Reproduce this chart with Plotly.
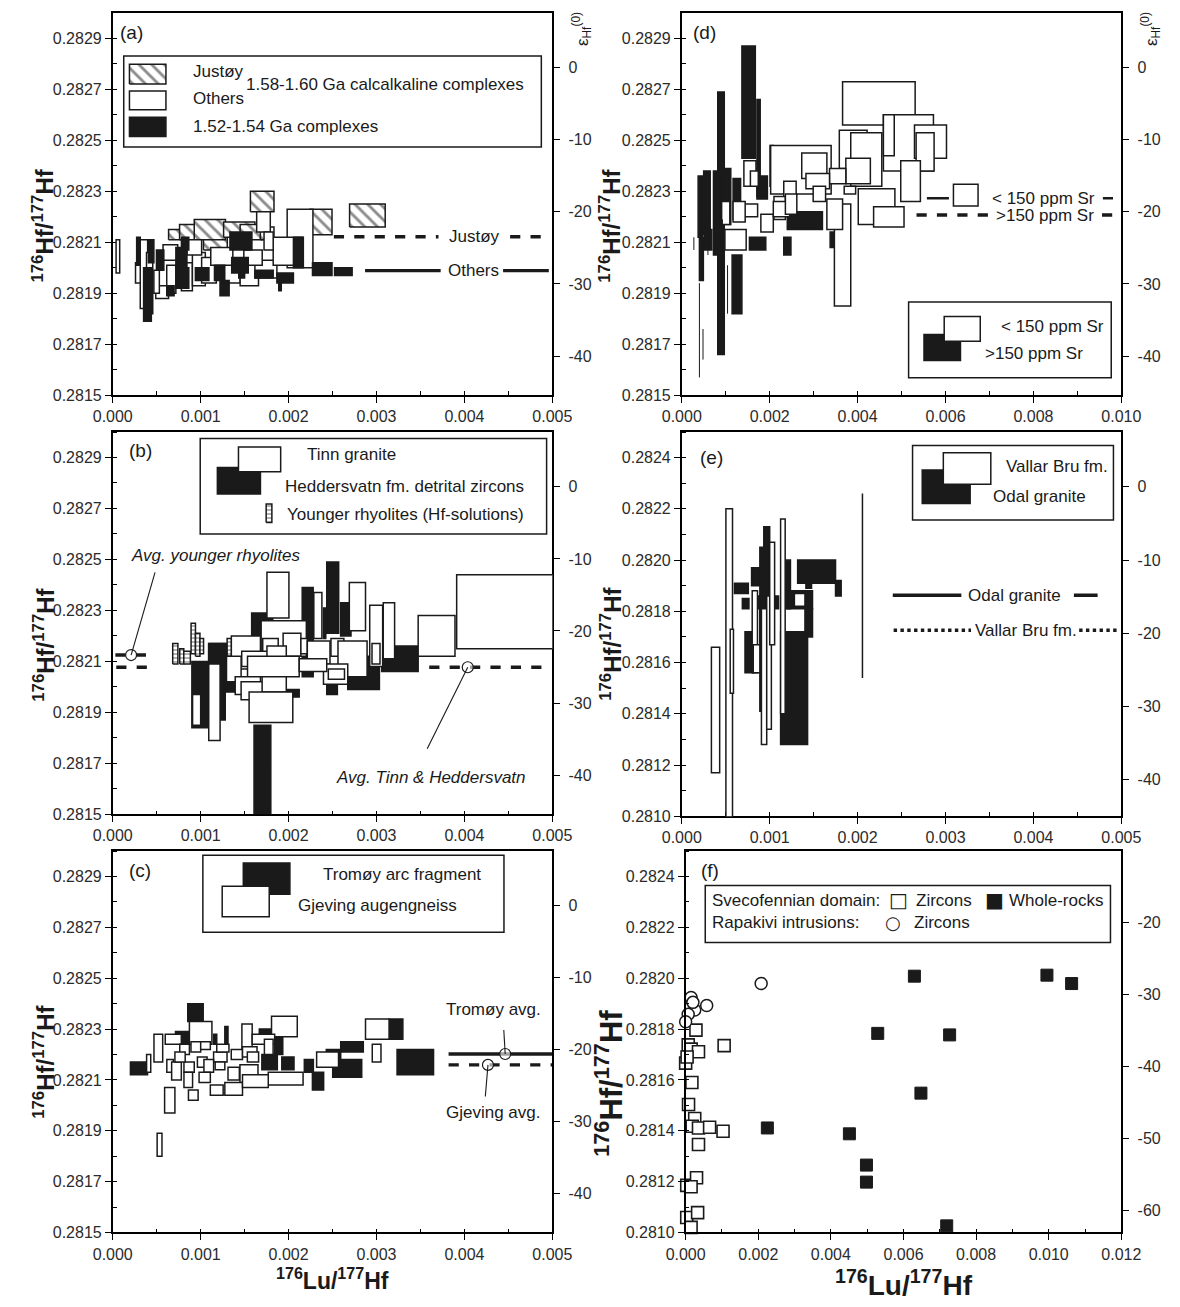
import plotly.graph_objects as go

W, H = 1180, 1307
FONT = "Liberation Sans, Arial, Helvetica, sans-serif"
INK = "#1a1a1a"
LU = 1e-3          # all 176Lu/177Hf values below are given in units of 1e-3
CHUR_HF = 0.282785  # present-day CHUR used for the eHf(0) scales
E_REF_HF = 0.282286  # panel (e): 176Hf/177Hf at e = 0
E_SLOPE = 0.00002858  # panel (e): 176Hf/177Hf per e-unit

# ---------------- (a) 1.52-1.60 Ga complexes : (Lu lo, Lu hi, Hf lo, Hf hi) ----------------
A_JUSTOY = [
    (1.566, 1.834, 0.28222, 0.28230), (2.243, 2.494, 0.28213, 0.28223), (2.694, 3.099, 0.28216, 0.28225),
    (1.032, 1.303, 0.28207, 0.28213), (0.635, 0.781, 0.28211, 0.28215), (0.760, 0.948, 0.28211, 0.28217),
    (0.927, 1.282, 0.28211, 0.28219), (1.261, 1.617, 0.28212, 0.28218), (1.449, 1.700, 0.28211, 0.28217),
    (1.679, 1.834, 0.28211, 0.28216),
]
A_OTHERS = [
    (0.038, 0.079, 0.28198, 0.28211), (0.259, 0.330, 0.28194, 0.28202), (0.313, 0.397, 0.28184, 0.28211),
    (0.384, 0.455, 0.28182, 0.28206), (0.489, 0.635, 0.28188, 0.28193), (0.468, 0.530, 0.28190, 0.28199),
    (0.614, 0.718, 0.28190, 0.28201), (0.781, 0.906, 0.28191, 0.28202), (0.906, 1.053, 0.28193, 0.28206),
    (1.011, 1.178, 0.28194, 0.28204), (1.261, 1.449, 0.28194, 0.28202), (1.449, 1.658, 0.28193, 0.28201),
    (1.617, 1.867, 0.28196, 0.28203), (1.984, 2.277, 0.28200, 0.28223), (1.825, 2.160, 0.28201, 0.28212),
    (1.637, 1.792, 0.28214, 0.28222), (1.115, 1.366, 0.28201, 0.28208), (0.844, 1.011, 0.28205, 0.28211),
    (0.572, 0.739, 0.28203, 0.28209), (1.491, 1.700, 0.28201, 0.28207), (1.721, 1.825, 0.28207, 0.28214),
]
A_YOUNG = [
    (0.272, 0.313, 0.28201, 0.28212), (0.351, 0.439, 0.28179, 0.28200), (0.405, 0.468, 0.28202, 0.28211),
    (0.497, 0.581, 0.28199, 0.28207), (0.718, 0.844, 0.28200, 0.28208), (0.718, 0.865, 0.28192, 0.28200),
    (0.940, 1.094, 0.28195, 0.28200), (1.157, 1.274, 0.28195, 0.28201), (1.220, 1.324, 0.28189, 0.28195),
    (1.333, 1.583, 0.28207, 0.28214), (1.353, 1.541, 0.28198, 0.28204), (1.433, 1.500, 0.28196, 0.28198),
    (1.617, 1.825, 0.28196, 0.28199), (1.867, 2.055, 0.28194, 0.28198), (2.055, 2.168, 0.28200, 0.28212),
    (2.272, 2.494, 0.28197, 0.28202), (2.523, 2.723, 0.28197, 0.28200), (1.888, 1.917, 0.28191, 0.28194),
    (0.614, 0.698, 0.28189, 0.28193), (0.781, 0.865, 0.28207, 0.28212),
]
A_AVG = {"Justøy": 0.282122, "Others": 0.281989}
A_AVG_SEGS = {"Justøy": [(2.515, 3.705), (4.52, 4.96)], "Others": [(2.87, 3.73), (4.44, 4.96)]}
A_AVG_LABEL_LU = {"Justøy": 4.11, "Others": 4.10}

# ---------------- (d) 1.52-1.54 Ga granitoids by Sr content ----------------
D_HIGH_SR = [
    (1.368, 1.673, 0.28243, 0.28287), (0.818, 0.967, 0.28166, 0.28269), (1.710, 1.784, 0.28228, 0.28266),
    (1.145, 1.368, 0.28182, 0.28205), (0.372, 0.476, 0.28212, 0.28236), (0.498, 0.647, 0.28213, 0.28238),
    (0.721, 0.907, 0.28205, 0.28238), (0.944, 1.115, 0.28217, 0.28239), (1.167, 1.338, 0.28219, 0.28235),
    (1.710, 1.948, 0.28227, 0.28236), (1.539, 1.911, 0.28207, 0.28212), (2.320, 2.483, 0.28205, 0.28212),
    (1.093, 1.316, 0.28208, 0.28211), (2.400, 3.200, 0.28215, 0.28222), (0.520, 0.684, 0.28207, 0.28215),
    (0.401, 0.491, 0.28195, 0.28212), (3.375, 3.472, 0.28208, 0.28214), (2.007, 2.082, 0.28232, 0.28248),
]
D_LOW_SR = [
    (3.658, 5.309, 0.28256, 0.28273), (2.022, 3.398, 0.28229, 0.28248), (3.584, 4.216, 0.28239, 0.28254),
    (3.844, 4.550, 0.28232, 0.28253), (4.587, 5.725, 0.28238, 0.28260), (5.294, 6.022, 0.28243, 0.28256),
    (5.331, 5.740, 0.28238, 0.28253), (4.587, 4.833, 0.28244, 0.28260), (4.981, 5.428, 0.28226, 0.28242),
    (4.015, 4.848, 0.28217, 0.28231), (4.364, 5.056, 0.28216, 0.28224), (3.472, 3.844, 0.28185, 0.28225),
    (3.301, 3.658, 0.28215, 0.28227), (2.729, 3.301, 0.28235, 0.28245), (3.732, 4.290, 0.28233, 0.28243),
    (3.361, 3.732, 0.28233, 0.28239), (2.825, 3.361, 0.28231, 0.28237), (2.989, 3.271, 0.28226, 0.28232),
    (2.320, 2.602, 0.28227, 0.28234), (2.097, 2.357, 0.28219, 0.28228), (1.799, 2.082, 0.28214, 0.28221),
    (0.981, 1.465, 0.28207, 0.28215), (1.413, 1.688, 0.28232, 0.28242), (1.561, 1.740, 0.28232, 0.28238),
    (1.413, 1.725, 0.28220, 0.28225), (1.167, 1.442, 0.28218, 0.28226), (0.907, 1.093, 0.28217, 0.28226),
    (2.082, 2.454, 0.28220, 0.28226), (2.357, 2.617, 0.28221, 0.28229), (3.695, 3.955, 0.28229, 0.28232),
]
D_THIN = [  # (Lu, Hf lo, Hf hi) analyses with negligible Lu error
    (0.401, 0.28157, 0.28194), (0.483, 0.28164, 0.28176), (1.041, 0.28182, 0.28201),
    (0.275, 0.28207, 0.28212), (0.595, 0.28205, 0.28220), (0.925, 0.28191, 0.28219),
]
D_AVG = {"< 150 ppm Sr": 0.282273, ">150 ppm Sr": 0.282207}
D_AVG_SEGS = {"< 150 ppm Sr": [(5.576, 6.077), (9.58, 9.81)], ">150 ppm Sr": [(5.34, 6.97), (9.56, 9.97)]}
D_AVG_LABEL_LU = {"< 150 ppm Sr": 8.22, ">150 ppm Sr": 8.26}

# ---------------- (b) Tinn / Heddersvatn / younger rhyolites ----------------
B_HEDD = [
    (1.607, 1.798, 0.28146, 0.28185), (2.434, 2.570, 0.28221, 0.28249), (2.155, 2.280, 0.28204, 0.28239),
    (2.592, 2.710, 0.28220, 0.28233), (1.580, 1.820, 0.28217, 0.28229), (3.059, 3.474, 0.28206, 0.28216),
    (2.673, 3.033, 0.28199, 0.28212), (2.434, 2.555, 0.28197, 0.28206), (1.099, 1.294, 0.28209, 0.28217),
    (0.900, 1.110, 0.28184, 0.28210), (1.090, 1.280, 0.28187, 0.28217), (1.294, 1.386, 0.28198, 0.28206),
    (1.956, 2.121, 0.28196, 0.28199), (2.397, 2.423, 0.28219, 0.28231),
]
B_TINN = [
    (1.754, 2.004, 0.28227, 0.28245), (2.691, 2.875, 0.28222, 0.28241), (2.287, 2.379, 0.28219, 0.28237),
    (2.923, 3.070, 0.28208, 0.28232), (3.077, 3.206, 0.28211, 0.28233), (3.474, 3.893, 0.28212, 0.28228),
    (3.912, 5.197, 0.28215, 0.28244), (1.688, 2.202, 0.28212, 0.28226), (1.349, 1.680, 0.28207, 0.28220),
    (1.706, 1.882, 0.28212, 0.28219), (1.938, 2.140, 0.28212, 0.28221), (2.140, 2.213, 0.28213, 0.28219),
    (2.213, 2.471, 0.28209, 0.28218), (2.482, 2.629, 0.28212, 0.28219), (2.562, 2.893, 0.28204, 0.28218),
    (2.397, 2.673, 0.28201, 0.28209), (1.467, 1.772, 0.28208, 0.28214), (1.754, 1.974, 0.28208, 0.28216),
    (1.533, 2.121, 0.28204, 0.28212), (2.121, 2.434, 0.28206, 0.28211), (1.294, 1.460, 0.28202, 0.28212),
    (1.393, 1.680, 0.28197, 0.28204), (1.460, 1.772, 0.28195, 0.28202), (1.882, 1.956, 0.28194, 0.28200),
    (1.699, 1.974, 0.28198, 0.28204), (1.551, 2.048, 0.28186, 0.28198), (1.092, 1.221, 0.28179, 0.28209),
    (0.908, 1.000, 0.28185, 0.28197), (2.949, 3.040, 0.28209, 0.28217), (2.452, 2.636, 0.28203, 0.28207),
]
B_RHYO = [
    (0.682, 0.741, 0.28209, 0.28217), (0.762, 0.808, 0.28209, 0.28215), (0.808, 0.883, 0.28209, 0.28214),
    (0.891, 0.941, 0.28213, 0.28225), (0.941, 0.992, 0.28212, 0.28221), (0.992, 1.033, 0.28213, 0.28219),
    (1.301, 1.351, 0.28212, 0.28219),
]
B_AVG_RHYO = 0.282125
B_AVG_TH = 0.282077
B_AVG_RHYO_LU = 0.209
B_AVG_TH_LU = 4.038

# ---------------- (c) Tromøy / Gjeving ----------------
C_TROMOY = [
    (0.201, 0.396, 0.28212, 0.28217), (0.853, 1.029, 0.28233, 0.28240), (0.714, 0.872, 0.28224, 0.28229),
    (1.667, 1.806, 0.28227, 0.28230), (1.842, 1.934, 0.28220, 0.28227), (1.696, 1.872, 0.28214, 0.28220),
    (1.923, 2.062, 0.28214, 0.28219), (2.179, 2.282, 0.28213, 0.28218), (2.271, 2.399, 0.28206, 0.28213),
    (2.502, 2.832, 0.28211, 0.28218), (2.593, 2.850, 0.28221, 0.28225), (3.143, 3.300, 0.28226, 0.28234),
    (3.234, 3.649, 0.28212, 0.28222), (1.147, 1.183, 0.28224, 0.28228), (2.429, 2.593, 0.28217, 0.28222),
    (1.275, 1.311, 0.28223, 0.28231),
]
C_GJEVING = [
    (0.469, 0.568, 0.28217, 0.28228), (0.385, 0.432, 0.28213, 0.28220), (0.872, 1.128, 0.28224, 0.28233),
    (1.806, 2.099, 0.28227, 0.28235), (2.875, 3.143, 0.28226, 0.28234), (2.952, 3.051, 0.28217, 0.28224),
    (2.319, 2.568, 0.28215, 0.28221), (1.769, 2.165, 0.28208, 0.28213), (0.590, 0.707, 0.28197, 0.28207),
    (0.505, 0.560, 0.28180, 0.28189), (1.469, 1.586, 0.28222, 0.28232), (1.586, 1.842, 0.28224, 0.28228),
    (1.725, 1.824, 0.28220, 0.28226), (1.447, 1.652, 0.28209, 0.28216), (1.275, 1.476, 0.28204, 0.28209),
    (1.110, 1.256, 0.28204, 0.28208), (1.476, 1.769, 0.28207, 0.28212), (0.861, 0.971, 0.28202, 0.28206),
    (0.597, 0.780, 0.28224, 0.28228), (0.927, 1.110, 0.28222, 0.28225), (0.762, 0.872, 0.28220, 0.28224),
    (1.147, 1.300, 0.28217, 0.28221), (0.615, 0.689, 0.28213, 0.28218), (0.670, 0.780, 0.28210, 0.28217),
    (0.810, 0.927, 0.28213, 0.28217), (0.963, 1.073, 0.28215, 0.28219), (1.037, 1.147, 0.28213, 0.28218),
    (0.810, 0.908, 0.28207, 0.28213), (1.165, 1.275, 0.28214, 0.28217), (0.982, 1.110, 0.28209, 0.28213),
    (1.311, 1.440, 0.28210, 0.28215), (1.348, 1.476, 0.28218, 0.28222), (1.476, 1.641, 0.28219, 0.28223),
    (1.183, 1.322, 0.28221, 0.28224), (0.707, 0.824, 0.28217, 0.28221), (0.890, 1.000, 0.28221, 0.28225),
    (1.531, 1.659, 0.28217, 0.28221),
]
C_AVG = {"Tromøy": 0.282202, "Gjeving": 0.282159}
C_AVG_LU = {"Tromøy": 4.464, "Gjeving": 4.268}
C_AVG_RANGE = (3.82, 5.0)

# ---------------- (e) Odal granite / Vallar Bru fm. ----------------
E_ODAL = [
    (1.124, 1.431, 0.28128, 0.28172), (1.318, 1.749, 0.28191, 0.28200), (0.599, 0.757, 0.28187, 0.28191),
    (0.689, 0.764, 0.28181, 0.28185), (0.719, 0.813, 0.28156, 0.28172), (0.794, 0.899, 0.28190, 0.28197),
    (0.933, 1.000, 0.28180, 0.28213), (0.888, 0.981, 0.28168, 0.28205), (1.169, 1.236, 0.28181, 0.28200),
    (1.199, 1.487, 0.28181, 0.28188), (1.401, 1.487, 0.28170, 0.28181), (1.749, 1.813, 0.28186, 0.28192),
    (1.412, 1.476, 0.28189, 0.28191), (0.876, 1.101, 0.28181, 0.28186), (0.888, 0.944, 0.28141, 0.28186),
]
E_VALLAR = [
    (0.337, 0.431, 0.28117, 0.28166), (0.502, 0.577, 0.28096, 0.28220), (1.124, 1.176, 0.28140, 0.28216),
    (0.906, 0.966, 0.28128, 0.28181), (0.966, 1.019, 0.28134, 0.28186), (1.000, 1.056, 0.28167, 0.28207),
    (0.801, 0.861, 0.28156, 0.28188), (0.813, 0.888, 0.28156, 0.28167), (1.281, 1.401, 0.28182, 0.28187),
    (0.551, 0.588, 0.28148, 0.28173), (2.055, 2.055, 0.28154, 0.28226),
]
E_AVG = {"Odal granite": 0.281863, "Vallar Bru fm.": 0.281726}
E_AVG_SEGS = {"Odal granite": [(2.40, 3.18), (4.46, 4.73)], "Vallar Bru fm.": [(2.41, 3.29), (4.52, 4.96)]}
E_AVG_LABEL_LU = {"Odal granite": 3.79, "Vallar Bru fm.": 3.91}

# ---------------- (f) Svecofennian domain / Rapakivi ----------------
F_SV_ZR_LU = [0.284, 0.071, 0.152, 0.354, 0.000, 0.040, 0.172, 0.080, 0.250, 0.180, 0.354, 0.660,
              1.030, 0.354, 1.060, 0.030, 0.300, 0.150, 0.030, 0.330, 0.150]
F_SV_ZR_HF = [0.281796, 0.281738, 0.281721, 0.281711, 0.281666, 0.281690, 0.281590, 0.281503, 0.281448,
              0.281418, 0.281411, 0.281414, 0.281398, 0.281346, 0.281735, 0.281185, 0.281215, 0.281180,
              0.281059, 0.281078, 0.281020]
F_SV_WR_LU = [6.30, 9.95, 10.63, 5.29, 7.27, 6.48, 2.25, 4.51, 4.98, 4.98, 7.19]
F_SV_WR_HF = [0.282008, 0.282012, 0.281979, 0.281783, 0.281777, 0.281548, 0.281411, 0.281388,
              0.281265, 0.281198, 0.281026]
F_RAPA_LU = [2.08, 0.15, 0.58, 0.25, 0.07, 0.00, 0.20]
F_RAPA_HF = [0.281979, 0.281924, 0.281893, 0.281875, 0.281858, 0.281829, 0.281905]

# ---------------- layout geometry (pixels in the 1180x1307 page) ----------------
PANELS = {
    "a": dict(n=1, px=(96, 551), py=(13, 398), xr=(0, 0.005), xd=0.001, yr=(0.2815, 0.2830), eps="chur"),
    "b": dict(n=2, px=(96, 551), py=(435, 820), xr=(0, 0.005), xd=0.001, yr=(0.2815, 0.2830), eps="chur"),
    "c": dict(n=3, px=(96, 551), py=(857, 1241), xr=(0, 0.005), xd=0.001, yr=(0.2815, 0.2830), eps="chur"),
    "d": dict(n=4, px=(685, 1140), py=(13, 398), xr=(0, 0.010), xd=0.002, yr=(0.2815, 0.2830), eps="chur"),
    "e": dict(n=5, px=(685, 1140), py=(435, 822), xr=(0, 0.005), xd=0.001, yr=(0.2810, 0.2825), eps="e"),
    "f": dict(n=6, px=(689, 1140), py=(857, 1241), xr=(0, 0.012), xd=0.002, yr=(0.2810, 0.2825), eps="chur"),
}
EPS_TICKS = {"a": [0, -10, -20, -30, -40], "b": [0, -10, -20, -30, -40], "c": [0, -10, -20, -30, -40],
             "d": [0, -10, -20, -30, -40], "e": [0, -10, -20, -30, -40], "f": [-20, -30, -40, -50, -60]}


def eps_of(kind, hf):
    if kind == "chur":
        return (hf / CHUR_HF - 1.0) * 1e4
    return (hf - E_REF_HF) / E_SLOPE


def refs(n):
    s = "" if n == 1 else str(n)
    return "x" + s, "y" + s


fig = go.Figure()
shapes = []
annotations = []
layout = {}
tickfont = dict(family=FONT, size=16, color="#2b2b2b")
BOX_LW = 1.5

for key, p in PANELS.items():
    n = p["n"]
    xr, yr = refs(n)
    s = "" if n == 1 else str(n)
    layout["xaxis" + s] = dict(
        domain=[p["px"][0] / W, p["px"][1] / W], range=list(p["xr"]), anchor=yr,
        tick0=0, dtick=p["xd"], tickformat=".3f", ticks="outside", ticklen=6, tickwidth=1.4,
        tickcolor="black", minor=dict(dtick=p["xd"] / 2, ticks="inside", ticklen=4, tickwidth=1.2,
                                      tickcolor="black"),
        showline=True, linewidth=1.7, linecolor="black", mirror=True, showgrid=False, zeroline=False,
        tickfont=tickfont, fixedrange=True)
    layout["yaxis" + s] = dict(
        domain=[1 - p["py"][1] / H, 1 - p["py"][0] / H], range=list(p["yr"]), anchor=xr,
        tick0=p["yr"][0], dtick=0.0002, tickformat=".4f", ticks="outside", ticklen=6, tickwidth=1.4,
        tickcolor="black", minor=dict(dtick=0.0001, ticks="inside", ticklen=4, tickwidth=1.2,
                                      tickcolor="black"),
        showline=True, linewidth=1.7, linecolor="black", mirror=True, showgrid=False, zeroline=False,
        tickfont=tickfont, fixedrange=True)
    en = n + 6
    tv = EPS_TICKS[key]
    layout["yaxis" + str(en)] = dict(
        overlaying=yr, side="right", anchor=xr,
        range=[eps_of(p["eps"], p["yr"][0]), eps_of(p["eps"], p["yr"][1])],
        tickmode="array", tickvals=tv, ticktext=[str(v) for v in tv],
        ticks="outside", ticklen=7, tickwidth=1.4, tickcolor="black", ticklabelstandoff=5,
        showline=False, showgrid=False, zeroline=False, tickfont=tickfont, fixedrange=True)
    fig.add_trace(go.Scatter(x=[None], y=[None], xaxis=xr, yaxis="y" + str(en), showlegend=False,
                             hoverinfo="skip"))


def rects(key, boxes, fill, lw=BOX_LW):
    xr, yr = refs(PANELS[key]["n"])
    for lo, hi, b, t in boxes:
        shapes.append(dict(type="rect", xref=xr, yref=yr, x0=lo * LU, x1=hi * LU, y0=b, y1=t,
                           fillcolor=fill, line=dict(color=INK, width=lw), layer="above"))


def pattern_rect(key, x0, x1, y0, y1, shape, size, solidity, fg):
    xr, yr = refs(PANELS[key]["n"])
    fig.add_trace(go.Scatter(x=[x0, x1, x1, x0, x0], y=[y0, y0, y1, y1, y0], mode="lines", fill="toself",
                             fillcolor="white",
                             fillpattern=dict(shape=shape, fgcolor=fg, bgcolor="white", size=size,
                                              solidity=solidity),
                             line=dict(color=INK, width=BOX_LW), xaxis=xr, yaxis=yr,
                             hoverinfo="skip", showlegend=False))


def dom(key, fx, fy):
    p = PANELS[key]
    return (p["xr"][0] + fx * (p["xr"][1] - p["xr"][0]), p["yr"][0] + fy * (p["yr"][1] - p["yr"][0]))


def seg_line(key, segs, value, dash, width=3.4):
    xr, yr = refs(PANELS[key]["n"])
    xs, ys = [], []
    for a, b in segs:
        xs += [a * LU, b * LU, None]
        ys += [value, value, None]
    fig.add_trace(go.Scatter(x=xs, y=ys, mode="lines", line=dict(color=INK, width=width, dash=dash),
                             xaxis=xr, yaxis=yr, hoverinfo="skip", showlegend=False))


def dtext(key, x, y, text, size=17, xanchor="center", italic=False):
    xr, yr = refs(PANELS[key]["n"])
    t = "<i>%s</i>" % text if italic else text
    annotations.append(dict(x=x, y=y, xref=xr, yref=yr, text=t, showarrow=False, xanchor=xanchor,
                            yanchor="middle", font=dict(family=FONT, size=size, color=INK)))


def ftext(key, fx, fy, text, size=17, xanchor="left", family=FONT):
    xr, yr = refs(PANELS[key]["n"])
    annotations.append(dict(x=fx, y=fy, xref=xr + " domain", yref=yr + " domain", text=text,
                            showarrow=False, xanchor=xanchor, yanchor="middle",
                            font=dict(family=family, size=size, color=INK)))


def fbox(key, x0, x1, y0, y1, fill, layer="above", lw=1.5):
    xr, yr = refs(PANELS[key]["n"])
    shapes.append(dict(type="rect", xref=xr + " domain", yref=yr + " domain", x0=x0, x1=x1, y0=y0, y1=y1,
                       fillcolor=fill, line=dict(color=INK, width=lw), layer=layer))


def leader(key, x0, y0, x1, y1, width=1.1):
    xr, yr = refs(PANELS[key]["n"])
    shapes.append(dict(type="line", xref=xr, yref=yr, x0=x0, y0=y0, x1=x1, y1=y1,
                       line=dict(color=INK, width=width), layer="above"))


def avg_circle(key, x, y):
    xr, yr = refs(PANELS[key]["n"])
    fig.add_trace(go.Scatter(x=[x], y=[y], mode="markers", xaxis=xr, yaxis=yr, cliponaxis=False,
                             marker=dict(symbol="circle", size=11, color="rgba(255,255,255,0.6)",
                                         line=dict(color=INK, width=1.2)),
                             hoverinfo="skip", showlegend=False))


# ---------- panel (a) ----------
for lo, hi, b, t in A_JUSTOY:
    pattern_rect("a", lo * LU, hi * LU, b, t, "\\", 9, 0.32, INK)
rects("a", A_OTHERS, "white")
rects("a", A_YOUNG, INK)
seg_line("a", A_AVG_SEGS["Justøy"], A_AVG["Justøy"], "dash")
seg_line("a", A_AVG_SEGS["Others"], A_AVG["Others"], "solid")
for name in A_AVG:
    dtext("a", A_AVG_LABEL_LU[name] * LU, A_AVG[name], name)
fbox("a", 0.025, 0.975, 0.649, 0.887, "white", layer="below")
hx0, hy0 = dom("a", 0.038, 0.814)
hx1, hy1 = dom("a", 0.121, 0.866)
pattern_rect("a", hx0, hx1, hy0, hy1, "\\", 9, 0.32, INK)
fbox("a", 0.038, 0.121, 0.747, 0.796, "white")
fbox("a", 0.038, 0.121, 0.677, 0.727, INK)
ftext("a", 0.177, 0.848, "Justøy")
ftext("a", 0.298, 0.814, "1.58-1.60 Ga calcalkaline complexes")
ftext("a", 0.177, 0.775, "Others")
ftext("a", 0.177, 0.703, "1.52-1.54 Ga complexes")
ftext("a", 0.012, 0.948, "(a)", size=19)

# ---------- panel (d) ----------
rects("d", D_HIGH_SR, INK)
rects("d", D_LOW_SR, "white")
for lu, b, t in D_THIN:
    leader("d", lu * LU, b, lu * LU, t, width=1.0)
seg_line("d", D_AVG_SEGS["< 150 ppm Sr"], D_AVG["< 150 ppm Sr"], "solid", 2.6)
seg_line("d", D_AVG_SEGS[">150 ppm Sr"], D_AVG[">150 ppm Sr"], "dash", 3.4)
for name in D_AVG:
    dtext("d", D_AVG_LABEL_LU[name] * LU, D_AVG[name], name)
fbox("d", 0.618, 0.674, 0.495, 0.552, "white")
fbox("d", 0.516, 0.977, 0.046, 0.244, "white", layer="below")
fbox("d", 0.551, 0.634, 0.091, 0.159, INK)
fbox("d", 0.597, 0.679, 0.141, 0.206, "white")
ftext("d", 0.964, 0.180, "< 150 ppm Sr", xanchor="right")
ftext("d", 0.686, 0.108, ">150 ppm Sr")
ftext("d", 0.021, 0.948, "(d)", size=19)

# ---------- panel (b) ----------
for lo, hi, b, t in B_RHYO:
    pattern_rect("b", lo * LU, hi * LU, b, t, "-", 4, 0.45, "#555555")
rects("b", B_HEDD, INK)
rects("b", B_TINN, "white")
seg_line("b", [(0.03, 0.43)], B_AVG_RHYO, "dash")
seg_line("b", [(0.04, 0.50), (3.60, 4.96)], B_AVG_TH, "dash")
leader("b", B_AVG_RHYO_LU * LU, B_AVG_RHYO, 0.481 * LU, 0.282449)
leader("b", B_AVG_TH_LU * LU, B_AVG_TH, 3.577 * LU, 0.281757)
avg_circle("b", B_AVG_RHYO_LU * LU, B_AVG_RHYO)
avg_circle("b", B_AVG_TH_LU * LU, B_AVG_TH)
dtext("b", 1.17 * LU, 0.282516, "Avg. younger rhyolites", italic=True)
dtext("b", 3.62 * LU, 0.281646, "Avg. Tinn &amp; Heddersvatn", italic=True)
fbox("b", 0.199, 0.987, 0.733, 0.983, "white", layer="below")
fbox("b", 0.238, 0.336, 0.838, 0.907, INK)
fbox("b", 0.286, 0.382, 0.896, 0.961, "white")
sx0, sy0 = dom("b", 0.349, 0.763)
sx1, sy1 = dom("b", 0.362, 0.812)
pattern_rect("b", sx0, sx1, sy0, sy1, "-", 4, 0.45, "#555555")
ftext("b", 0.438, 0.942, "Tinn granite")
ftext("b", 0.387, 0.857, "Heddersvatn fm. detrital zircons")
ftext("b", 0.393, 0.785, "Younger rhyolites (Hf-solutions)")
ftext("b", 0.033, 0.951, "(b)", size=19)

# ---------- panel (e) ----------
rects("e", E_ODAL, INK)
rects("e", E_VALLAR, "white")
seg_line("e", E_AVG_SEGS["Odal granite"], E_AVG["Odal granite"], "solid")
seg_line("e", E_AVG_SEGS["Vallar Bru fm."], E_AVG["Vallar Bru fm."], "dot")
for name in E_AVG:
    dtext("e", E_AVG_LABEL_LU[name] * LU, E_AVG[name], name)
fbox("e", 0.525, 0.982, 0.771, 0.965, "white", layer="below")
fbox("e", 0.547, 0.656, 0.814, 0.901, INK)
fbox("e", 0.595, 0.703, 0.864, 0.946, "white")
ftext("e", 0.733, 0.911, "Vallar Bru fm.")
ftext("e", 0.703, 0.832, "Odal granite")
ftext("e", 0.038, 0.933, "(e)", size=19)

# ---------- panel (c) ----------
rects("c", C_TROMOY, INK)
rects("c", C_GJEVING, "white")
seg_line("c", [C_AVG_RANGE], C_AVG["Tromøy"], "solid")
seg_line("c", [C_AVG_RANGE], C_AVG["Gjeving"], "dash")
leader("c", C_AVG_LU["Tromøy"] * LU, C_AVG["Tromøy"], 4.448 * LU, 0.282296)
leader("c", C_AVG_LU["Gjeving"] * LU, C_AVG["Gjeving"], 4.238 * LU, 0.282035)
avg_circle("c", C_AVG_LU["Tromøy"] * LU, C_AVG["Tromøy"])
avg_circle("c", C_AVG_LU["Gjeving"] * LU, C_AVG["Gjeving"])
dtext("c", 4.33 * LU, 0.282375, "Tromøy avg.")
dtext("c", 4.33 * LU, 0.281972, "Gjeving avg.")
fbox("c", 0.205, 0.890, 0.787, 0.989, "white", layer="below")
fbox("c", 0.297, 0.403, 0.887, 0.969, INK)
fbox("c", 0.249, 0.356, 0.828, 0.908, "white")
ftext("c", 0.473, 0.939, "Tromøy arc fragment")
ftext("c", 0.416, 0.858, "Gjeving augengneiss")
ftext("c", 0.033, 0.949, "(c)", size=19)

# ---------- panel (f) ----------
xr6, yr6 = refs(6)
fig.add_trace(go.Scatter(x=[v * LU for v in F_SV_ZR_LU], y=F_SV_ZR_HF, mode="markers", xaxis=xr6, yaxis=yr6,
                         cliponaxis=False,
                         marker=dict(symbol="square", size=12, color="white", line=dict(color=INK, width=1.6)),
                         hoverinfo="skip", showlegend=False))
fig.add_trace(go.Scatter(x=[v * LU for v in F_RAPA_LU], y=F_RAPA_HF, mode="markers", xaxis=xr6, yaxis=yr6,
                         cliponaxis=False,
                         marker=dict(symbol="circle", size=12, color="white", line=dict(color=INK, width=1.5)),
                         hoverinfo="skip", showlegend=False))
fig.add_trace(go.Scatter(x=[v * LU for v in F_SV_WR_LU], y=F_SV_WR_HF, mode="markers", xaxis=xr6, yaxis=yr6,
                         cliponaxis=False,
                         marker=dict(symbol="square", size=12, color=INK, line=dict(color=INK, width=1)),
                         hoverinfo="skip", showlegend=False))
fbox("f", 0.045, 0.975, 0.760, 0.910, "white", layer="below")
ftext("f", 0.055, 0.871, "Svecofennian domain:")
ftext("f", 0.489, 0.871, "□", size=20, xanchor="center", family="DejaVu Sans")
ftext("f", 0.523, 0.871, "Zircons")
ftext("f", 0.709, 0.871, "■", size=20, xanchor="center", family="DejaVu Sans")
ftext("f", 0.738, 0.871, "Whole-rocks")
ftext("f", 0.055, 0.812, "Rapakivi intrusions:")
ftext("f", 0.477, 0.812, "○", size=18, xanchor="center", family="DejaVu Sans")
ftext("f", 0.519, 0.812, "Zircons")
ftext("f", 0.030, 0.949, "(f)", size=19)

# ---------- axis titles ----------
HF_TITLE = "<b><sup>176</sup>Hf/<sup>177</sup>Hf</b>"
LU_TITLE = "<b><sup>176</sup>Lu/<sup>177</sup>Hf</b>"
for xpx, ypx, size in [(24, 227, 24), (24, 649, 24), (24, 1069, 24), (611, 227, 24), (611, 648, 24),
                       (610, 1091, 31)]:
    annotations.append(dict(x=xpx / W, y=1 - ypx / H, xref="paper", yref="paper", text=HF_TITLE,
                            textangle=-90, showarrow=False, xanchor="center", yanchor="middle",
                            font=dict(family=FONT, size=size, color=INK)))
for xpx, ypx, size in [(323, 1288, 23), (915, 1292, 28)]:
    annotations.append(dict(x=xpx / W, y=1 - ypx / H, xref="paper", yref="paper", text=LU_TITLE,
                            showarrow=False, xanchor="center", yanchor="middle",
                            font=dict(family=FONT, size=size, color=INK)))
for xpx in (582, 1171):
    annotations.append(dict(x=xpx / W, y=1 - 29 / H, xref="paper", yref="paper",
                            text="ε<sub>Hf</sub><sup>(0)</sup>", textangle=-90, showarrow=False,
                            xanchor="center", yanchor="middle", font=dict(family=FONT, size=17, color=INK)))

layout.update(dict(width=W, height=H, margin=dict(l=0, r=0, t=0, b=0), paper_bgcolor="white",
                   plot_bgcolor="white", showlegend=False, shapes=shapes, annotations=annotations,
                   font=dict(family=FONT, color=INK)))
fig.update_layout(**layout)
fig.write_html("out.html")
